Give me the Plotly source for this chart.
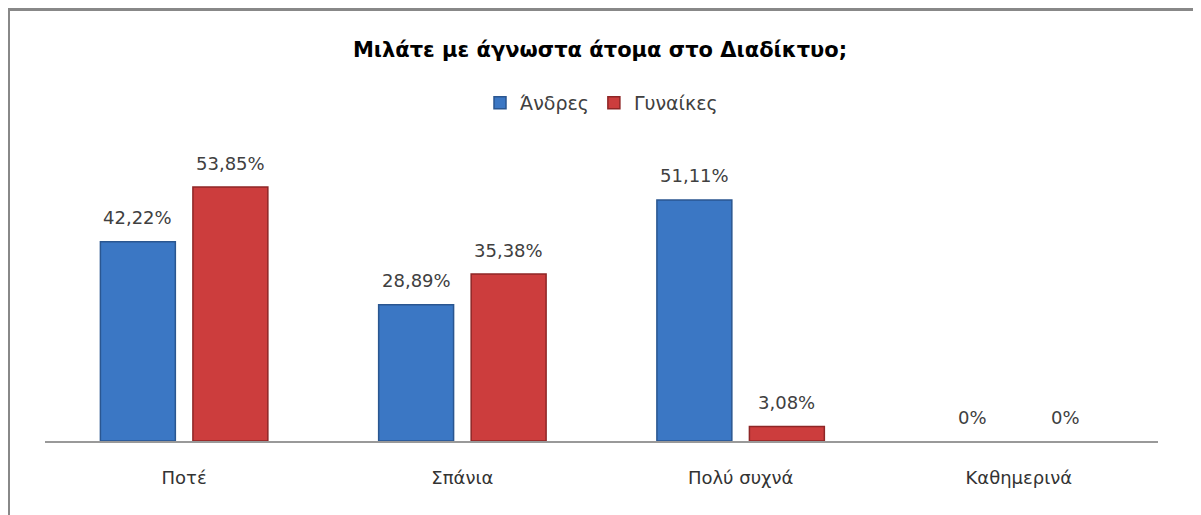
import plotly.graph_objects as go

categories = ["Ποτέ", "Σπάνια", "Πολύ συχνά", "Καθημερινά"]
andres = [42.22, 28.89, 51.11, 0]
gynaikes = [53.85, 35.38, 3.08, 0]
series_names = ["Άνδρες", "Γυναίκες"]
title_text = "Μιλάτε με άγνωστα άτομα στο Διαδίκτυο;"


def fmt(v):
    if v == 0:
        return "0%"
    return f"{v:.2f}".replace(".", ",") + "%"


W, H = 1193, 507  # page body has an 8px margin
L, R, T, B = 37, 43, 150, 74
pw, ph = W - L - R, H - T - B

fig = go.Figure()
fig.add_trace(go.Bar(name=series_names[0], x=list(range(len(categories))), y=andres,
                     marker=dict(color="#3b77c4",
                                 line=dict(color="#2a5690",
                                           width=[1.5 if v > 0 else 0 for v in andres]))))
fig.add_trace(go.Bar(name=series_names[1], x=list(range(len(categories))), y=gynaikes,
                     marker=dict(color="#cc3d3d",
                                 line=dict(color="#8e2626",
                                           width=[1.5 if v > 0 else 0 for v in gynaikes]))))

off = 0.1664
for i in range(len(categories)):
    for v, dx in ((andres[i], -off), (gynaikes[i], off)):
        fig.add_annotation(x=i + dx, y=v, text=fmt(v), showarrow=False,
                           yanchor="middle", yshift=24,
                           font=dict(family="DejaVu Sans", size=18, color="#404040"))

fig.add_shape(type="rect", xref="paper", yref="paper",
              x0=(0.5 - L) / pw, x1=(1189.5 - L) / pw,
              y0=-0.4, y1=(H - B - 1.5) / ph,
              line=dict(color="#888888", width=3), fillcolor="rgba(0,0,0,0)", layer="below")

fig.update_layout(
    width=W, height=H,
    margin=dict(l=L, r=R, t=T, b=B),
    paper_bgcolor="white", plot_bgcolor="white",
    barmode="group", bargap=0.335, bargroupgap=0.19,
    title=dict(text="<b>" + title_text + "</b>", x=(600 - 8) / W, xanchor="center",
               y=1 - 42 / H, yanchor="middle",
               font=dict(family="DejaVu Sans", size=21, color="#000000")),
    legend=dict(orientation="h", x=0.5, xanchor="center", y=(H - B - 95) / ph, yanchor="middle",
                font=dict(family="DejaVu Sans", size=19, color="#404040"),
                traceorder="normal"),
    xaxis=dict(tickmode="array", tickvals=list(range(len(categories))), ticktext=categories,
               range=[-0.5, 3.5], showline=True, linecolor="#999999", linewidth=1.5,
               showgrid=False, zeroline=False, ticks="", ticklabelstandoff=20,
               tickfont=dict(family="DejaVu Sans", size=18, color="#333333")),
    yaxis=dict(range=[0, 60], showticklabels=False, showgrid=False, zeroline=False,
               showline=False, fixedrange=True),
)

fig.write_html("out.html")
